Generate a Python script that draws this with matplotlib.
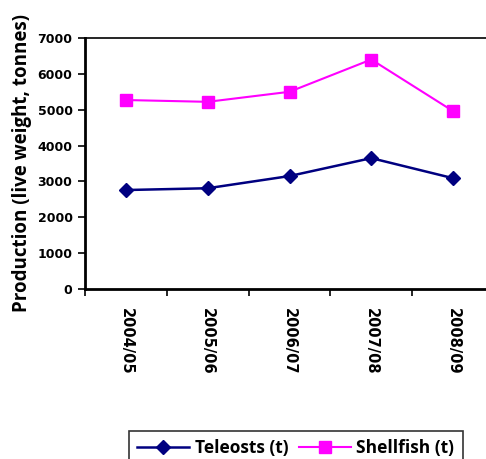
import matplotlib
matplotlib.use("Agg")
import matplotlib.pyplot as plt
import numpy as np

seasons = ["2004/05", "2005/06", "2006/07", "2007/08", "2008/09"]
teleosts = [2760, 2810, 3150, 3650, 3090]
shellfish = [5270, 5220, 5500, 6400, 4960]
y_ticks = [0, 1000, 2000, 3000, 4000, 5000, 6000, 7000]

W, H = 486, 459
fig = plt.figure(figsize=(W / 100, H / 100), dpi=100)
ax = fig.add_axes([85 / W, (H - 289) / H, (494 - 85) / W, (289 - 38) / H])

x = np.arange(len(seasons))
ax.plot(x, teleosts, color="#000080", lw=1.8, marker="D", ms=7.5,
        label="Teleosts (t)", clip_on=False)
ax.plot(x, shellfish, color="#FF00FF", lw=1.5, marker="s", ms=8,
        label="Shellfish (t)", clip_on=False)

ax.set_xlim(-0.5, len(seasons) - 0.5)
ax.set_ylim(0, 7000)
ax.set_yticks(y_ticks)
ax.set_yticklabels([str(v) for v in y_ticks], fontsize=9,
                   fontweight="bold", family="DejaVu Sans")

# category boundaries carry the tick marks, labels sit between them
ax.set_xticks(np.arange(len(seasons) + 1) - 0.5)
ax.set_xticklabels([])
ax.set_xticks(x, minor=True)
ax.set_xticklabels(seasons, minor=True, rotation=270, fontsize=10.5,
                   fontweight="bold", family="DejaVu Sans")
ax.tick_params(axis="x", which="minor", length=0, pad=14)
ax.tick_params(axis="x", which="major", length=5, width=1.2, direction="out")
ax.tick_params(axis="y", length=5, width=1.2, direction="out", pad=4)

for side in ["left", "bottom"]:
    ax.spines[side].set_linewidth(2)
ax.spines["top"].set_linewidth(1.2)
ax.spines["right"].set_visible(False)

ax.set_ylabel("Production (live weight, tonnes)", fontsize=13.5,
              fontweight="bold", family="Open Sans", labelpad=4)

leg = fig.legend(loc="upper left", bbox_to_anchor=(120 / W, 1 - 422 / H),
                 bbox_transform=fig.transFigure, ncol=2, frameon=True,
                 fancybox=False, edgecolor="black", borderpad=0.5,
                 handlelength=3.0, columnspacing=0.6, handletextpad=0.3,
                 prop={"family": "Open Sans", "weight": "bold", "size": 12.5})
leg.get_frame().set_linewidth(1.2)

fig.savefig("out.png", dpi=100)
